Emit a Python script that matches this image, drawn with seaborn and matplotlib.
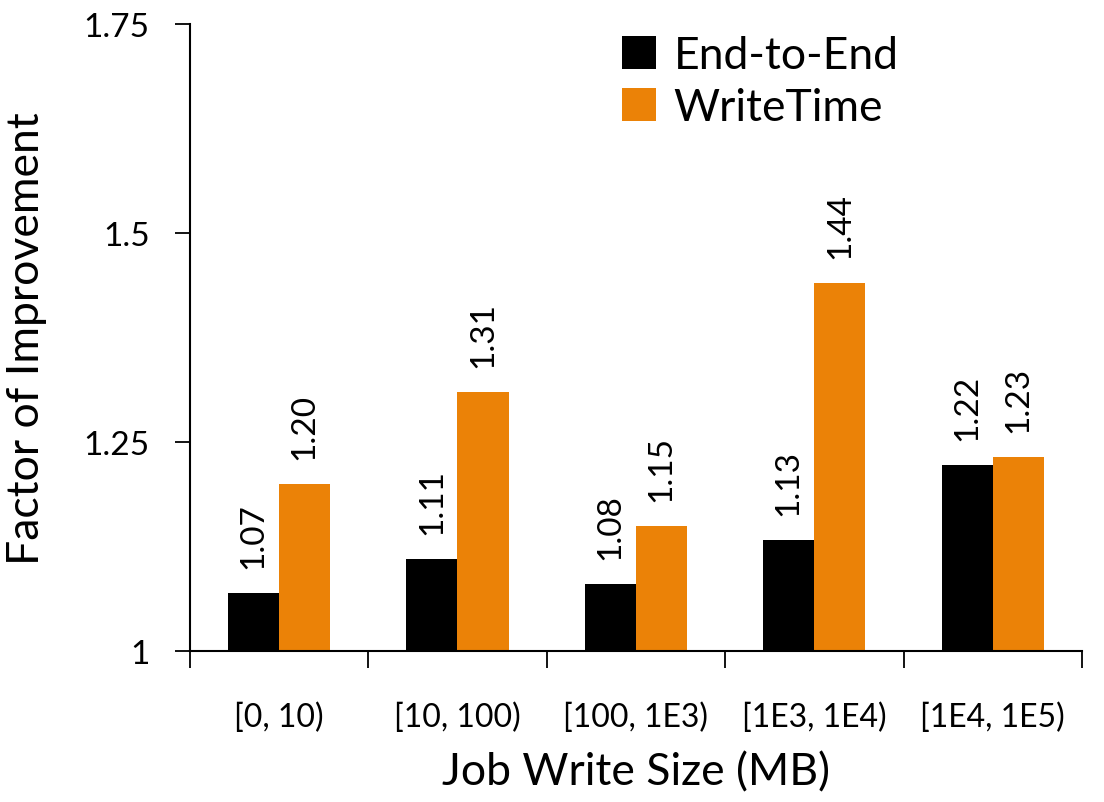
import matplotlib
matplotlib.use("Agg")
import matplotlib.pyplot as plt
import seaborn as sns
import pandas as pd
import numpy as np

categories = ["[0, 10)", "[10, 100)", "[100, 1E3)", "[1E3, 1E4)", "[1E4, 1E5)"]
end_to_end = [1.07, 1.11, 1.08, 1.133, 1.223]
write_time = [1.20, 1.31, 1.15, 1.44, 1.232]
series_names = ["End-to-End", "WriteTime"]
colors = ["#000000", "#EB8207"]
yticks = [1, 1.25, 1.5, 1.75]
ytick_labels = ["1", "1.25", "1.5", "1.75"]

df = pd.DataFrame({
    "cat": categories * 2,
    "val": end_to_end + write_time,
    "series": [series_names[0]] * len(categories) + [series_names[1]] * len(categories),
})

sns.set_theme(style="ticks")
plt.rcParams["font.family"] = ["Lato", "DejaVu Sans"]
plt.rcParams["text.color"] = "black"
plt.rcParams["axes.labelcolor"] = "black"
plt.rcParams["xtick.color"] = "black"
plt.rcParams["ytick.color"] = "black"

fig = plt.figure(figsize=(11.04, 8.03), dpi=100)
ax = fig.add_axes([0.172, 0.188, 0.808, 0.781])

sns.barplot(data=df, x="cat", y="val", hue="series", palette=colors,
            width=0.573, saturation=1, ax=ax, errorbar=None, linewidth=0)

ax.set_ylim(1, 1.75)
ax.set_xlim(-0.5, len(categories) - 0.5)
ax.set_yticks(yticks)
ax.set_yticklabels(ytick_labels, fontsize=24)
ax.set_xticks(range(len(categories)))
ax.set_xticklabels(categories, fontsize=23)
ax.tick_params(axis="x", length=0, pad=36)
ax.set_xticks(np.arange(-0.5, len(categories), 1), minor=True)
ax.tick_params(axis="x", which="minor", length=12, width=1.3, color="black", direction="out")
ax.tick_params(axis="y", length=11, width=1.3, color="black", direction="out", pad=18)

for s in ["top", "right"]:
    ax.spines[s].set_visible(False)
for s in ["left", "bottom"]:
    ax.spines[s].set_linewidth(1.5)
    ax.spines[s].set_color("black")

for cont in ax.containers:
    ax.bar_label(cont, fmt="%.2f", rotation=90, padding=18, fontsize=24)

ax.set_xlabel("Job Write Size (MB)", fontsize=32, labelpad=14)
ax.set_ylabel("Factor of Improvement", fontsize=32, labelpad=26)

leg = ax.legend(loc="upper left", bbox_to_anchor=(0.455, 1.025), frameon=False,
                fontsize=32, handlelength=0.75, handleheight=0.75, handletextpad=0.4,
                labelspacing=0.25, borderaxespad=0.2)

fig.savefig("out.png", dpi=100)
